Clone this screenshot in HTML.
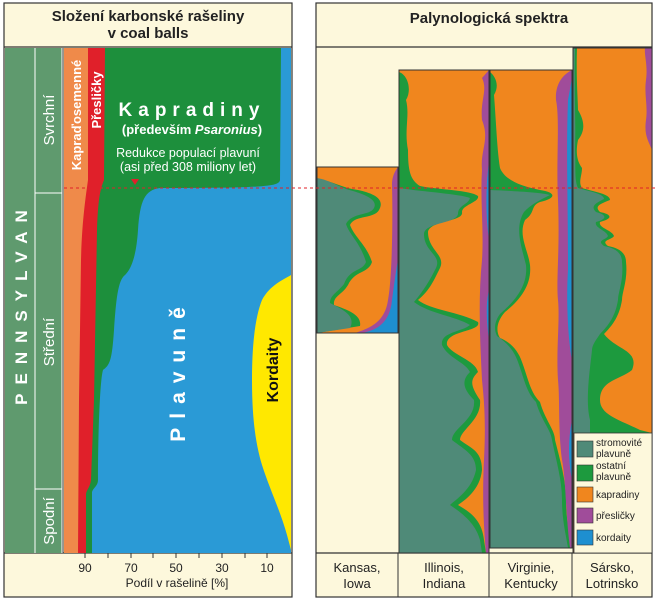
<!DOCTYPE html>
<html><head><meta charset="utf-8"><style>
html,body{margin:0;padding:0;background:#fff;}
svg{display:block;font-family:"Liberation Sans",sans-serif;}
</style></head><body>
<svg width="655" height="600" viewBox="0 0 655 600" xmlns="http://www.w3.org/2000/svg">
<rect width="655" height="600" fill="#fff"/>
<!-- LEFT PANEL -->
<rect x="4" y="3" width="288" height="594" fill="#fdf8dc" stroke="#333" stroke-width="1.2"/>
<line x1="4" y1="47" x2="292" y2="47" stroke="#333" stroke-width="1.2"/>
<line x1="4" y1="553" x2="292" y2="553" stroke="#333" stroke-width="1.2"/>
<text x="148" y="21" font-size="15" font-weight="bold" text-anchor="middle" fill="#222">Složení karbonské rašeliny</text>
<text x="148" y="38" font-size="15" font-weight="bold" text-anchor="middle" fill="#222">v coal balls</text>
<!-- strat columns -->
<rect x="5" y="48" width="58" height="505" fill="#5f9a6e"/>
<line x1="35" y1="48" x2="35" y2="553" stroke="#fff" stroke-width="1"/>
<line x1="62" y1="48" x2="62" y2="553" stroke="#fff" stroke-width="1"/>
<line x1="35" y1="193" x2="62" y2="193" stroke="#fff" stroke-width="1"/>
<line x1="35" y1="489" x2="62" y2="489" stroke="#fff" stroke-width="1"/>
<line x1="63" y1="48" x2="63" y2="553" stroke="#333" stroke-width="1"/>
<text transform="translate(27,303) rotate(-90)" font-size="17" font-weight="bold" fill="#fff" text-anchor="middle" letter-spacing="9">PENNSYLVAN</text>
<text transform="translate(54,120) rotate(-90)" font-size="15" fill="#fff" text-anchor="middle">Svrchní</text>
<text transform="translate(54,342) rotate(-90)" font-size="15" fill="#fff" text-anchor="middle">Střední</text>
<text transform="translate(54,521) rotate(-90)" font-size="15" fill="#fff" text-anchor="middle">Spodní</text>
<!-- plot -->
<rect x="64" y="48" width="227" height="505" fill="#2a9ad6"/>
<path d="M64,48 L281,48 L280,180 C279,186 270,188 160,188 C145,190 140,200 138,230 C136,260 130,270 125,275 C118,280 116,300 114,330 C112,360 110,365 103,370 C100,380 98,430 98,480 C98,486 93,488 92,492 L92,553 L64,553 Z" fill="#1d8f3c"/>
<path d="M64,48 L105,48 L104,180 C100,190 98,200 97,230 L94,400 L91,480 C90,488 86,490 86,495 L86,553 L64,553 Z" fill="#e0202a"/>
<path d="M64,48 L88,48 L88,180 C86,195 82,220 81,260 L79,400 L78,553 L64,553 Z" fill="#ef8a4a"/>
<path d="M291,275 C283,280 270,285 262,300 C256,315 252,340 252,380 C252,420 256,445 262,465 C270,490 280,510 287,535 L291,550 Z" fill="#ffe800"/>
<text transform="translate(81,115) rotate(-90)" font-size="13" font-weight="bold" fill="#fff" text-anchor="middle">Kapraďosemenné</text>
<text transform="translate(101,100) rotate(-90)" font-size="13" font-weight="bold" fill="#fff" text-anchor="middle">Přesličky</text>
<text x="192" y="116" font-size="19" font-weight="bold" fill="#fff" text-anchor="middle" letter-spacing="6">Kapradiny</text>
<text x="192" y="134" font-size="13" font-weight="bold" fill="#fff" text-anchor="middle">(především <tspan font-style="italic">Psaronius</tspan>)</text>
<text x="188" y="157" font-size="12.5" fill="#fff" text-anchor="middle">Redukce populací plavuní</text>
<text x="188" y="171" font-size="12.5" fill="#fff" text-anchor="middle">(asi před 308 miliony let)</text>
<path d="M131,179 L139,179 L135,185 Z" fill="#e0202a"/>
<text transform="translate(185,370) rotate(-90)" font-size="21" font-weight="bold" fill="#fff" text-anchor="middle" letter-spacing="9">Plavuně</text>
<text transform="translate(278,370) rotate(-90)" font-size="16" font-weight="bold" fill="#111" text-anchor="middle">Kordaity</text>
<!-- axis -->
<g stroke="#333" stroke-width="1">
<line x1="85" y1="553" x2="85" y2="558"/><line x1="108" y1="553" x2="108" y2="558"/><line x1="131" y1="553" x2="131" y2="558"/><line x1="153" y1="553" x2="153" y2="558"/><line x1="176" y1="553" x2="176" y2="558"/><line x1="199" y1="553" x2="199" y2="558"/><line x1="222" y1="553" x2="222" y2="558"/><line x1="245" y1="553" x2="245" y2="558"/><line x1="267" y1="553" x2="267" y2="558"/>
</g>
<g font-size="12" fill="#222" text-anchor="middle">
<text x="85" y="572">90</text><text x="131" y="572">70</text><text x="176" y="572">50</text><text x="222" y="572">30</text><text x="267" y="572">10</text>
<text x="177" y="587">Podíl v rašelině [%]</text>
</g>
<!-- RIGHT PANEL -->
<rect x="316" y="3" width="336" height="594" fill="#fdf8dc" stroke="#333" stroke-width="1.2"/>
<line x1="316" y1="47" x2="652" y2="47" stroke="#333" stroke-width="1.2"/>
<line x1="316" y1="553" x2="652" y2="553" stroke="#333" stroke-width="1.2"/>
<text x="489" y="23" font-size="15" font-weight="bold" text-anchor="middle" fill="#222">Palynologická spektra</text>
<!-- Kansas -->
<rect x="317" y="167" width="81" height="166" fill="#f0861e"/>
<path d="M317,179 C330,180 342,188 358,190 C372,193 384,198 380,208 C376,220 355,214 350,225 C355,238 366,244 372,262 C368,274 355,270 348,285 C342,295 333,296 334,305 C348,310 362,315 360,326 L317,333 Z" fill="#1d9a3e"/>
<path d="M317,178 C330,180 340,188 353,191 C366,195 378,200 374,208 C370,216 352,212 346,224 C350,236 360,242 366,262 C362,272 350,268 344,284 C338,292 330,295 330,303 C344,310 356,316 350,328 L317,333 Z" fill="#4f8a78"/>
<path d="M398,167 L398,333 L355,333 C370,328 385,322 388,300 C392,280 393,220 392,185 C392,175 396,170 398,167 Z" fill="#a04c9a"/>
<path d="M398,260 L398,333 L362,333 C378,330 390,322 392,300 C394,285 396,270 398,260 Z" fill="#1e8fd0"/>
<rect x="317" y="167" width="81" height="166" fill="none" stroke="#333" stroke-width="1"/>
<!-- Illinois -->
<rect x="399" y="70" width="90" height="483" fill="#f0861e"/>
<path d="M399,72 C408,75 412,90 406,100 C410,115 404,130 408,150 C408,170 410,180 420,186 C440,190 470,190 478,196 C480,202 462,205 462,212 C464,222 430,220 428,232 C428,250 446,255 440,268 C434,280 430,290 418,300 C430,310 460,312 478,322 C482,332 445,330 447,345 C452,355 475,360 478,372 C470,380 470,385 480,400 C482,420 460,430 460,440 C470,448 482,450 482,470 C480,490 465,500 458,505 C470,512 482,520 484,540 L486,553 L399,553 Z" fill="#1d9a3e"/>
<path d="M399,188 C425,192 460,194 470,198 C468,205 458,205 458,214 C456,224 425,222 424,234 C424,252 442,255 436,268 C430,280 424,290 414,302 C430,314 455,316 470,325 C462,332 440,332 442,345 C448,358 465,362 470,372 C462,380 462,388 474,400 C476,420 452,428 452,440 C465,450 476,455 476,470 C472,490 455,500 450,505 C465,515 476,525 480,540 L482,553 L399,553 Z" fill="#4f8a78"/>
<path d="M489,70 L489,553 L486,553 C484,530 482,500 484,460 C486,420 484,400 482,380 C480,340 478,300 482,260 C484,230 480,200 482,170 C480,150 490,140 482,120 C480,100 488,90 482,78 Z" fill="#a04c9a"/>
<path d="M489,160 L489,240 C486,220 486,200 487,180 Z M489,290 L489,340 C486,320 486,300 489,290 Z" fill="#1e8fd0"/>
<rect x="399" y="70" width="90" height="483" fill="none" stroke="#333" stroke-width="1"/>
<!-- Virginie -->
<rect x="490" y="70" width="82" height="478" fill="#f0861e"/>
<path d="M490,72 C495,76 500,85 494,95 C496,120 497,150 500,168 C505,180 520,186 540,190 C555,192 558,198 540,202 C530,206 536,212 525,220 C518,235 528,250 530,265 C532,285 520,300 505,312 C496,322 496,332 500,338 C510,342 518,350 522,362 C528,378 530,392 540,402 C545,420 555,430 555,440 C560,460 566,480 566,500 C566,520 570,535 571,548 L490,548 Z" fill="#1d9a3e"/>
<path d="M490,190 C510,191 540,192 550,195 C540,200 530,205 524,212 C514,228 522,248 526,265 C528,285 516,300 500,314 C494,322 494,330 497,336 C506,342 514,350 518,362 C524,378 526,392 536,402 C541,420 551,430 552,440 C556,460 562,480 562,500 C562,520 566,535 568,548 L490,548 Z" fill="#4f8a78"/>
<path d="M572,70 L572,548 L570,548 C566,520 566,480 562,460 C558,430 560,400 558,380 C556,350 560,320 558,300 C556,280 560,250 558,200 C556,160 560,120 556,100 C555,85 562,75 572,70 Z" fill="#a04c9a"/>
<path d="M572,78 L572,360 C568,340 566,300 568,270 C568,200 566,150 568,100 Z M572,420 L572,480 C568,460 568,440 572,420 Z" fill="#1e8fd0"/>
<rect x="490" y="70" width="82" height="478" fill="none" stroke="#333" stroke-width="1"/>
<!-- Sarsko -->
<rect x="573" y="48" width="79" height="505" fill="#f0861e"/>
<path d="M573,48 L577,48 C576,80 578,100 578,110 C584,120 586,130 578,140 C576,150 576,160 582,168 C582,176 578,182 582,188 C595,192 610,194 610,200 C600,204 594,206 600,212 C610,214 615,218 600,222 C598,228 612,230 614,236 C612,240 600,240 608,246 C618,248 626,252 626,262 C628,280 622,292 622,300 C620,312 616,322 604,334 C616,350 640,350 632,370 C620,380 600,380 600,400 C600,415 620,420 640,430 L652,433 L573,433 Z" fill="#1d9a3e"/>
<path d="M573,48 L575,48 C574,90 576,120 575,150 C576,165 574,180 578,188 C592,192 604,194 604,199 C596,203 590,206 596,212 C604,214 610,218 596,222 C594,228 606,230 608,236 C606,240 596,240 604,246 C614,248 622,252 622,262 C624,280 618,292 618,300 C616,312 612,322 600,334 C596,340 592,345 592,350 C590,370 585,400 590,420 L590,433 L573,433 Z" fill="#4f8a78"/>
<path d="M652,48 L652,150 C648,140 644,135 646,120 C648,105 644,95 646,80 C648,65 644,55 645,48 Z" fill="#a04c9a"/>
<rect x="573" y="48" width="79" height="505" fill="none" stroke="#333" stroke-width="1"/>
<!-- legend -->
<rect x="574" y="433" width="78" height="120" fill="#fdf8dc" stroke="#333" stroke-width="0.8"/>
<rect x="577" y="441" width="16" height="16" fill="#4f8a78" stroke="#333" stroke-width="0.6"/>
<rect x="577" y="465" width="16" height="16" fill="#1d9a3e" stroke="#333" stroke-width="0.6"/>
<rect x="577" y="487" width="16" height="15" fill="#f0861e" stroke="#333" stroke-width="0.6"/>
<rect x="577" y="508" width="16" height="15" fill="#a04c9a" stroke="#333" stroke-width="0.6"/>
<rect x="577" y="530" width="16" height="15" fill="#1e8fd0" stroke="#333" stroke-width="0.6"/>
<g font-size="10" fill="#222">
<text x="596" y="446">stromovité</text><text x="596" y="457">plavuně</text>
<text x="596" y="469">ostatní</text><text x="596" y="480">plavuně</text>
<text x="596" y="498">kapradiny</text>
<text x="596" y="519">přesličky</text>
<text x="596" y="541">kordaity</text>
</g>
<!-- column separators in label area -->
<g stroke="#333" stroke-width="1"><line x1="398" y1="553" x2="398" y2="597"/><line x1="489" y1="553" x2="489" y2="597"/><line x1="572" y1="553" x2="572" y2="597"/></g>
<g font-size="13" fill="#222" text-anchor="middle">
<text x="357" y="572">Kansas,</text><text x="357" y="588">Iowa</text>
<text x="444" y="572">Illinois,</text><text x="444" y="588">Indiana</text>
<text x="531" y="572">Virginie,</text><text x="531" y="588">Kentucky</text>
<text x="612" y="572">Sársko,</text><text x="612" y="588">Lotrinsko</text>
</g>
<!-- red dashed line -->
<line x1="64" y1="188" x2="655" y2="188" stroke="#e0202a" stroke-width="1" stroke-dasharray="3,3"/>
</svg>
</body></html>
